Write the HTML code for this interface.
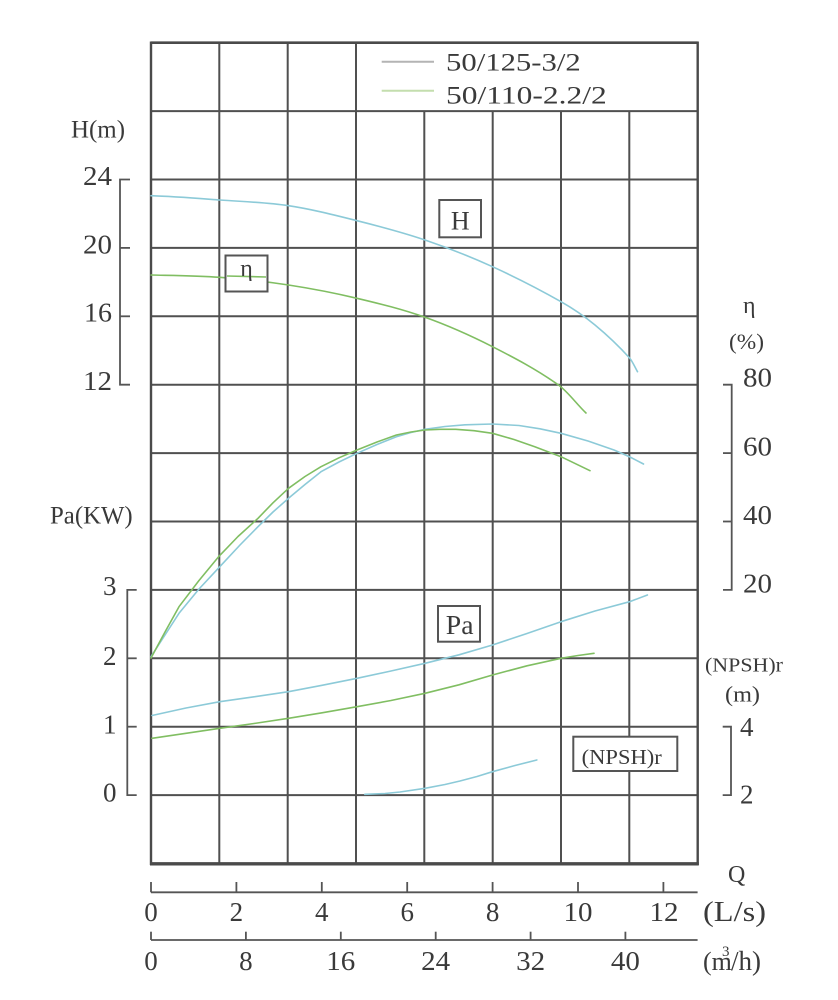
<!DOCTYPE html>
<html>
<head>
<meta charset="utf-8">
<style>
  html,body{margin:0;padding:0;background:#fff;}
  svg{display:block;}
  text{font-family:"Liberation Serif","Noto Serif CJK SC",serif;fill:#3a3a3a;}
</style>
</head>
<body>
<svg width="838" height="1000" viewBox="0 0 838 1000" xmlns="http://www.w3.org/2000/svg">
  <rect x="0" y="0" width="838" height="1000" fill="#fff"/>

  <!-- Grid -->
  <g stroke="#505050" stroke-width="2" fill="none">
    <line x1="151" y1="111.1" x2="697.7" y2="111.1"/>
    <line x1="151" y1="179.5" x2="697.7" y2="179.5"/>
    <line x1="151" y1="247.9" x2="697.7" y2="247.9"/>
    <line x1="151" y1="316.3" x2="697.7" y2="316.3"/>
    <line x1="151" y1="384.7" x2="697.7" y2="384.7"/>
    <line x1="151" y1="453.1" x2="697.7" y2="453.1"/>
    <line x1="151" y1="521.5" x2="697.7" y2="521.5"/>
    <line x1="151" y1="589.9" x2="697.7" y2="589.9"/>
    <line x1="151" y1="658.3" x2="697.7" y2="658.3"/>
    <line x1="151" y1="726.7" x2="697.7" y2="726.7"/>
    <line x1="151" y1="795.1" x2="697.7" y2="795.1"/>
    <line x1="219.3" y1="42.7" x2="219.3" y2="863.5"/>
    <line x1="287.7" y1="42.7" x2="287.7" y2="863.5"/>
    <line x1="356" y1="42.7" x2="356" y2="863.5"/>
    <line x1="424.3" y1="111.1" x2="424.3" y2="863.5"/>
    <line x1="492.7" y1="111.1" x2="492.7" y2="863.5"/>
    <line x1="561" y1="111.1" x2="561" y2="863.5"/>
    <line x1="629.3" y1="111.1" x2="629.3" y2="863.5"/>
  </g>
  <g stroke="#4a4a4a" fill="none">
    <line x1="151" y1="42.7" x2="697.7" y2="42.7" stroke-width="2.6"/>
    <line x1="151" y1="41.5" x2="151" y2="865" stroke-width="2.4"/>
    <line x1="697.7" y1="41.5" x2="697.7" y2="865" stroke-width="2.4"/>
    <line x1="150" y1="863.8" x2="698.8" y2="863.8" stroke-width="3.4"/>
  </g>

  <!-- Legend -->
  <line x1="381.7" y1="61.7" x2="434" y2="61.7" stroke="#b4b4b4" stroke-width="2"/>
  <text x="446" y="70.7" font-size="25" textLength="134.7" lengthAdjust="spacingAndGlyphs">50/125-3/2</text>
  <line x1="381.7" y1="90.7" x2="434" y2="90.7" stroke="#c4deae" stroke-width="2"/>
  <text x="446" y="103.3" font-size="25" textLength="160.7" lengthAdjust="spacingAndGlyphs">50/110-2.2/2</text>

  <!-- Left axis H -->
  <text x="71" y="137.3" font-size="25" textLength="54" lengthAdjust="spacingAndGlyphs">H(m)</text>
  <g stroke="#555" stroke-width="1.8" fill="none">
    <polyline points="130,179.5 120,179.5 120,384.7 130,384.7"/>
    <line x1="120" y1="247.9" x2="130" y2="247.9"/>
    <line x1="120" y1="316.3" x2="130" y2="316.3"/>
  </g>
  <g font-size="27">
    <text x="83" y="185" textLength="29" lengthAdjust="spacingAndGlyphs">24</text>
    <text x="83" y="253.3" textLength="29" lengthAdjust="spacingAndGlyphs">20</text>
    <text x="84" y="321.7" textLength="28" lengthAdjust="spacingAndGlyphs">16</text>
    <text x="83" y="390" textLength="29" lengthAdjust="spacingAndGlyphs">12</text>
  </g>

  <!-- Left axis Pa -->
  <text x="50" y="523.3" font-size="25" textLength="82.7" lengthAdjust="spacingAndGlyphs">Pa(KW)</text>
  <g stroke="#555" stroke-width="1.8" fill="none">
    <polyline points="136.7,589.9 127.3,589.9 127.3,795.1 136.7,795.1"/>
    <line x1="127.3" y1="658.3" x2="136.7" y2="658.3"/>
    <line x1="127.3" y1="726.7" x2="136.7" y2="726.7"/>
  </g>
  <g font-size="27">
    <text x="103" y="595">3</text>
    <text x="103" y="665">2</text>
    <text x="103" y="733.3">1</text>
    <text x="103" y="801.7">0</text>
  </g>

  <!-- Right axis eta -->
  <text x="743" y="313" font-size="24">η</text>
  <text x="729" y="349" font-size="22" textLength="35" lengthAdjust="spacingAndGlyphs">(%)</text>
  <g stroke="#555" stroke-width="1.8" fill="none">
    <polyline points="723,384.7 731.7,384.7 731.7,589.9 723,589.9"/>
    <line x1="723" y1="453.1" x2="731.7" y2="453.1"/>
    <line x1="723" y1="521.5" x2="731.7" y2="521.5"/>
  </g>
  <g font-size="27">
    <text x="743" y="386.5" textLength="29" lengthAdjust="spacingAndGlyphs">80</text>
    <text x="743" y="455.5" textLength="29" lengthAdjust="spacingAndGlyphs">60</text>
    <text x="743" y="524" textLength="29" lengthAdjust="spacingAndGlyphs">40</text>
    <text x="743" y="592.5" textLength="29" lengthAdjust="spacingAndGlyphs">20</text>
  </g>

  <!-- Right axis NPSH -->
  <text x="705" y="671.7" font-size="20" textLength="78" lengthAdjust="spacingAndGlyphs">(NPSH)r</text>
  <text x="725" y="701.7" font-size="22" textLength="35" lengthAdjust="spacingAndGlyphs">(m)</text>
  <g stroke="#555" stroke-width="1.8" fill="none">
    <polyline points="722.7,726.7 731,726.7 731,795.1 722.7,795.1"/>
  </g>
  <g font-size="27">
    <text x="740" y="736">4</text>
    <text x="740" y="803.3">2</text>
  </g>

  <!-- X axes -->
  <text x="728" y="882" font-size="24">Q</text>
  <g stroke="#555" stroke-width="1.8" fill="none">
    <line x1="151" y1="892.3" x2="697.6" y2="892.3"/>
    <line x1="151" y1="882" x2="151" y2="892.3"/>
    <line x1="236.4" y1="882" x2="236.4" y2="892.3"/>
    <line x1="321.8" y1="882" x2="321.8" y2="892.3"/>
    <line x1="407.2" y1="882" x2="407.2" y2="892.3"/>
    <line x1="492.6" y1="882" x2="492.6" y2="892.3"/>
    <line x1="578" y1="882" x2="578" y2="892.3"/>
    <line x1="663.4" y1="882" x2="663.4" y2="892.3"/>

    <line x1="151" y1="940" x2="697.6" y2="940"/>
    <line x1="151" y1="931.7" x2="151" y2="940"/>
    <line x1="245.9" y1="931.7" x2="245.9" y2="940"/>
    <line x1="340.8" y1="931.7" x2="340.8" y2="940"/>
    <line x1="435.7" y1="931.7" x2="435.7" y2="940"/>
    <line x1="530.6" y1="931.7" x2="530.6" y2="940"/>
    <line x1="625.4" y1="931.7" x2="625.4" y2="940"/>
  </g>
  <g font-size="27" text-anchor="middle">
    <text x="151" y="921">0</text>
    <text x="236.4" y="921">2</text>
    <text x="321.8" y="921">4</text>
    <text x="407.2" y="921">6</text>
    <text x="492.6" y="921">8</text>
    <text x="578" y="921" textLength="29" lengthAdjust="spacingAndGlyphs">10</text>
    <text x="664" y="921" textLength="29" lengthAdjust="spacingAndGlyphs">12</text>

    <text x="151" y="970">0</text>
    <text x="245.9" y="970">8</text>
    <text x="340.8" y="970" textLength="29" lengthAdjust="spacingAndGlyphs">16</text>
    <text x="435.7" y="970" textLength="29" lengthAdjust="spacingAndGlyphs">24</text>
    <text x="530.6" y="970" textLength="29" lengthAdjust="spacingAndGlyphs">32</text>
    <text x="625.4" y="970" textLength="29" lengthAdjust="spacingAndGlyphs">40</text>
  </g>
  <text x="703" y="921" font-size="28" textLength="63" lengthAdjust="spacingAndGlyphs">(L/s)</text>
  <text x="703" y="970" font-size="26">(m</text>
  <text x="722" y="956" font-size="15">3</text>
  <text x="731" y="970" font-size="27">/h)</text>

  <!-- Curves -->
  <g fill="none" stroke-width="1.6" stroke-linecap="round" stroke-linejoin="round">
    <path stroke="#8ccad8" d="M151,195.7 C173.9,196.4 196.9,198.3 219.8,200 C242.7,201.7 265.6,202.2 288.5,205.7 C311.3,209.1 334.2,215 357,220.7 C379.7,226.4 402.3,232.3 425,240 C447.5,247.6 470,256.5 492.5,266.7 C515.3,277.1 538.2,288.7 561,301.7 C572.3,308.1 583.7,315.7 595,325 C606.5,334.5 618.1,345.3 629.6,358 C632.2,360.9 634.9,367.2 637.5,371.7"/>
    <path stroke="#80be62" d="M151,275 C173.9,275.5 196.9,275.6 219.8,277.3 C242.7,279 265.6,281.5 288.5,285 C311.3,288.5 334.2,292.9 357,298.3 C379.7,303.7 402.3,309.2 425,317.3 C447.5,325.3 470,335.3 492.5,346.7 C514.5,357.9 536.5,369.4 558.5,385 C567.7,391.5 576.8,404.3 586,413"/>

    <polyline stroke="#8ccad8" points="151,656.7 165,635 179,613.3 199,589 219.8,566.7 240,545 258,526.7 273,512 288.5,498.3 305,484.5 321,471.7 339,462 357,453.3 377,444.5 396.4,436.7 411,432.5 425,429.3 445,426.5 465,424.8 492.5,424 519,425.5 540,428.8 561,433.3 588,441 614,450 630,457 643.5,464"/>
    <polyline stroke="#80be62" points="151,658 165,632 179,606.7 199,580.5 218.6,556.7 238,536.5 258,518.3 273,502.8 288.5,488.3 305,476.5 321,466.7 339,457.8 357,450 377,442 396.4,435 411,432 425,430 440,429.3 455.7,429.3 474,430.7 492.5,433.3 514,439.5 534.8,446.7 561,456.7 590,470.7"/>

    <polyline stroke="#8ccad8" points="152,715.5 186,708 219.8,701.7 254,696.8 288.5,691.7 322,685.3 357,678.3 391,671 425,663.3 459,654.8 492.5,645 527,633.5 561,621.7 595,611 629.6,601.7 647.4,595"/>
    <polyline stroke="#80be62" points="152,738.3 186,733.3 219.8,728.3 254,723.5 288.5,718.3 322,712.8 357,706.7 391,700.5 425,693.3 459,684.8 492.5,675 527,665.8 561,658.3 578,655.5 594,653.3"/>

    <polyline stroke="#8ccad8" points="364.8,794.3 385,793.5 400,792 425,788.3 445,784.5 460,781 477,776.5 492.5,771.7 515,765.5 536.8,760"/>
  </g>

  <!-- Boxed labels -->
  <g fill="#fff" stroke="#555" stroke-width="2">
    <rect x="439.3" y="200" width="41.7" height="37.3"/>
    <rect x="225.5" y="255.5" width="42" height="36"/>
    <rect x="438" y="606" width="42" height="35.7"/>
    <rect x="573.3" y="736.7" width="104" height="34.3"/>
  </g>
  <path d="M227,276 L266,277" stroke="#80be62" stroke-width="1.6" fill="none"/>
  <text x="460.3" y="229.3" font-size="26" text-anchor="middle">H</text>
  <text x="246.5" y="276" font-size="24" text-anchor="middle">η</text>
  <text x="445.8" y="634" font-size="27" textLength="27.7" lengthAdjust="spacingAndGlyphs">Pa</text>
  <text x="581.7" y="764" font-size="21" textLength="80" lengthAdjust="spacingAndGlyphs">(NPSH)r</text>
</svg>
</body>
</html>
